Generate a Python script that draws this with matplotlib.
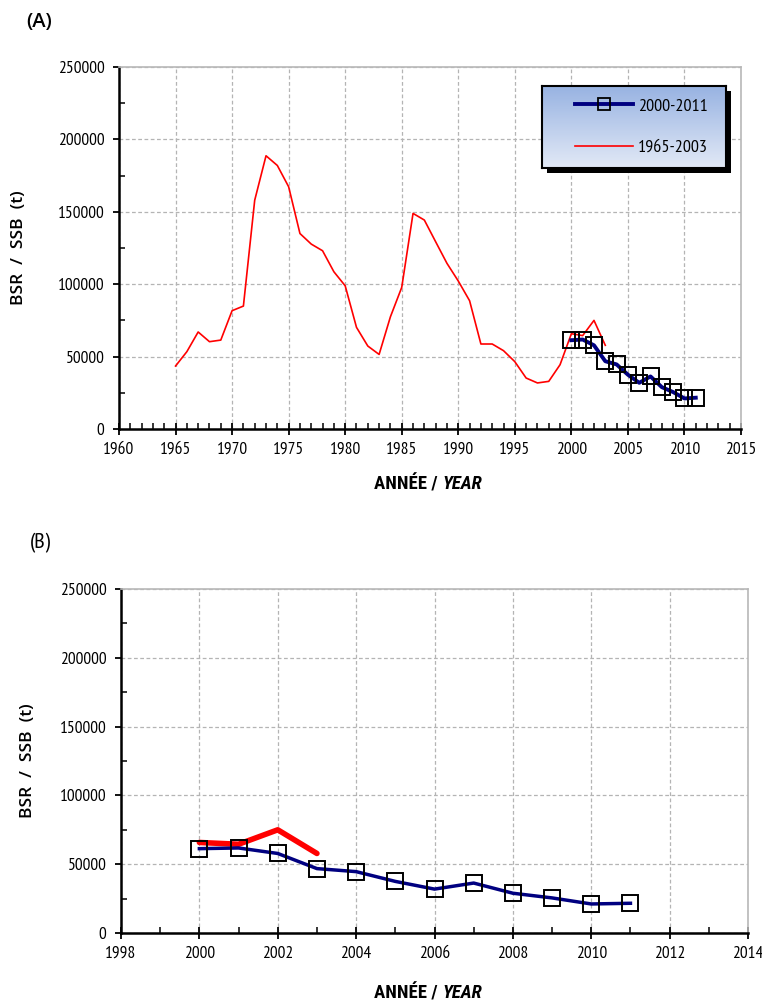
import matplotlib
matplotlib.use("Agg")
import matplotlib.pyplot as plt
import numpy as np
from matplotlib.ticker import MultipleLocator
from matplotlib.lines import Line2D
from matplotlib.patches import Rectangle
from matplotlib.colors import LinearSegmentedColormap
from matplotlib import font_manager

fonts = font_manager.fontManager.ttflist
available = set(f.name for f in fonts)
prefs = ['PT Sans Narrow', 'Roboto Condensed', 'Fira Sans Condensed', 'Archivo Narrow',
         'Asap Condensed', 'Encode Sans Condensed', 'Open Sans Condensed', 'Liberation Sans Narrow']
narrow = [p for p in prefs if p in available]
narrow_it = [p for p in prefs if any(f.name == p and f.style in ('italic', 'oblique') for f in fonts)]
NARROW = narrow[:1] + ['DejaVu Sans']
NARROW_IT = narrow_it[:1] + NARROW
HUMAN = ['Open Sans', 'DejaVu Sans']
plt.rcParams['font.family'] = NARROW

# ---- data ----
years_long = list(range(1965, 2004))
ssb_long = [43500, 53400, 67000, 60300, 61400, 81700, 84900, 158000, 188700, 182000,
            167300, 135000, 127700, 123100, 108600, 98900, 70200, 57300, 51500, 77500,
            97800, 148900, 144300, 129300, 114400, 102200, 88600, 58700, 58700, 54100,
            46500, 35200, 31800, 32900, 44400, 65800, 64500, 75000, 57800]
years_new = list(range(2000, 2012))
ssb_new = [61300, 61800, 57800, 46800, 44600, 37500, 31900, 36300, 28900, 25500, 21100, 21600]
label_new = "2000-2011"
label_long = "1965-2003"
ylabel = "BSR  /  SSB  (t)"

W, H = 762, 1006
fig = plt.figure(figsize=(W / 100, H / 100), dpi=100)


def fig_rect(l, t, r, b):
    return [l / W, 1 - b / H, (r - l) / W, (b - t) / H]


def style_axes(ax, xmin, xmax, xmaj, xminor):
    ax.set_xlim(xmin, xmax)
    ax.set_ylim(0, 250000)
    ax.xaxis.set_major_locator(MultipleLocator(xmaj))
    ax.xaxis.set_minor_locator(MultipleLocator(xminor))
    ax.yaxis.set_major_locator(MultipleLocator(50000))
    ax.yaxis.set_minor_locator(MultipleLocator(25000))
    ax.grid(True, which='major', color='#b4b4b4', linestyle=(0, (3, 2)), linewidth=0.9)
    ax.set_axisbelow(True)
    for s in ['left', 'bottom']:
        ax.spines[s].set_color('black')
        ax.spines[s].set_linewidth(1.8)
    for s in ['top', 'right']:
        ax.spines[s].set_color('#b8b8b8')
        ax.spines[s].set_linewidth(1.2)
    ax.tick_params(axis='x', which='major', direction='inout', length=8, width=1.3, labelsize=12.5, pad=5)
    ax.tick_params(axis='x', which='minor', direction='in', length=4, width=1.1)
    ax.tick_params(axis='y', which='major', direction='out', length=4.5, width=1.3, labelsize=12.5, pad=6)
    ax.tick_params(axis='y', which='minor', direction='in', length=4, width=1.1)
    ax.tick_params(top=False, right=False, which='both')
    ax.set_ylabel(ylabel, fontsize=12.5, family=HUMAN, fontweight='semibold')


# ---- Panel A ----
axA = fig.add_axes(fig_rect(119, 67, 741, 429))
style_axes(axA, 1960, 2015, 5, 1)
axA.plot(years_long, ssb_long, color='#ff0000', lw=1.2, zorder=3)
axA.plot(years_new, ssb_new, color='#000080', lw=2.8, marker='s', ms=11,
         mfc='none', mec='black', mew=1.4, zorder=4)
axA.yaxis.set_label_coords(-0.148, 0.5)

# ---- Panel B ----
axB = fig.add_axes(fig_rect(121, 589, 748, 933))
style_axes(axB, 1998, 2014, 2, 1)
axB.plot(years_long[-4:], ssb_long[-4:], color='#ff0000', lw=4, solid_capstyle='round', zorder=3)
axB.plot(years_new, ssb_new, color='#000080', lw=2.5, marker='s', ms=11,
         mfc='none', mec='black', mew=1.4, zorder=4)
axB.yaxis.set_label_coords(-0.136, 0.5)

# ---- x labels ----
for yb in [484, 993]:
    fig.text(442 / W, 1 - yb / H, "ANNÉE / ", ha='right', va='center', fontsize=13.5,
             fontweight='bold', family=NARROW_IT)
    fig.text(442 / W, 1 - yb / H, "YEAR", ha='left', va='center', fontsize=13.5,
             fontweight='bold', style='italic', family=NARROW_IT)

fig.text(26 / W, 1 - 22 / H, "(A)", ha='left', va='center', fontsize=14.5,
         fontweight='semibold', family=HUMAN)
fig.text(30 / W, 1 - 543 / H, "(B)", ha='left', va='center', fontsize=16)

# ---- legend with gradient box and shadow ----
fig.patches.append(Rectangle((547 / W, 1 - 173 / H), 184 / W, 82 / H,
                             transform=fig.transFigure, facecolor='black', edgecolor='none', zorder=1))
lax = fig.add_axes(fig_rect(542, 86, 726, 168), zorder=2)
grad = np.linspace(0, 1, 100).reshape(-1, 1)
cmap = LinearSegmentedColormap.from_list('g', ['#98b3e2', '#e2e9f6'])
lax.imshow(grad, aspect='auto', cmap=cmap, extent=[0, 1, 0, 1], origin='upper')
lax.set_xlim(0, 1)
lax.set_ylim(0, 1)
lax.set_xticks([])
lax.set_yticks([])
for s in lax.spines.values():
    s.set_linewidth(1.5)
    s.set_color('black')
h_new = Line2D([], [], color='#000080', lw=2.8, marker='s', ms=8, mfc='none', mec='black', mew=1.3)
h_long = Line2D([], [], color='#ff0000', lw=1.2)
lax.legend([h_new, h_long], [label_new, label_long], loc='center', frameon=False,
           fontsize=13, handlelength=3.2, labelspacing=1.35, handletextpad=0.3,
           bbox_to_anchor=(0.54, 0.5))

fig.savefig("out.png", dpi=100)
